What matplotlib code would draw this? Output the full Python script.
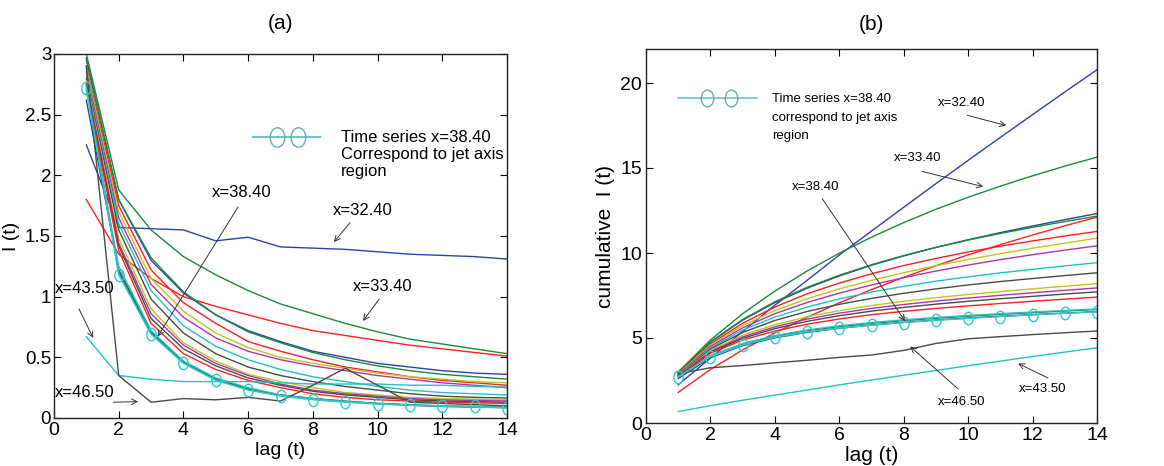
import numpy as np
import matplotlib
matplotlib.use("Agg")
import matplotlib.pyplot as plt
from matplotlib.lines import Line2D
from matplotlib.markers import MarkerStyle
from matplotlib.transforms import Affine2D
from matplotlib.ticker import FormatStrFormatter
from matplotlib.legend_handler import HandlerLine2DCompound

plt.rcParams['font.family'] = ['Liberation Sans', 'DejaVu Sans']

lag = [1, 2, 3, 4, 5, 6, 7, 8, 9, 10, 11, 12, 13, 14]

# I(t) series (panel a); panel b shows their cumulative sums
I_x3240 = [2.25, 1.57, 1.56, 1.55, 1.46, 1.49, 1.41, 1.40, 1.39, 1.37, 1.35, 1.34, 1.33, 1.31]
I_x3340 = [3.00, 1.88, 1.55, 1.33, 1.18, 1.05, 0.94, 0.86, 0.78, 0.71, 0.65, 0.61, 0.57, 0.53]
I_red1 = [1.80, 1.35, 1.15, 1.00, 0.92, 0.85, 0.78, 0.72, 0.68, 0.64, 0.60, 0.57, 0.54, 0.51]
I_blue2 = [2.95, 1.80, 1.30, 1.03, 0.85, 0.72, 0.63, 0.55, 0.50, 0.45, 0.42, 0.39, 0.37, 0.36]
I_green2 = [2.97, 1.80, 1.32, 1.04, 0.85, 0.71, 0.62, 0.54, 0.48, 0.43, 0.39, 0.36, 0.34, 0.32]
I_red2 = [2.90, 1.75, 1.22, 0.95, 0.78, 0.63, 0.55, 0.48, 0.42, 0.38, 0.34, 0.31, 0.29, 0.27]
I_yellow1 = [2.88, 1.70, 1.15, 0.88, 0.70, 0.58, 0.50, 0.45, 0.41, 0.37, 0.34, 0.32, 0.30, 0.29]
I_magenta1 = [2.85, 1.65, 1.10, 0.83, 0.66, 0.55, 0.48, 0.43, 0.39, 0.35, 0.32, 0.29, 0.27, 0.25]
I_cyan1 = [2.82, 1.60, 1.05, 0.76, 0.59, 0.48, 0.40, 0.34, 0.30, 0.26, 0.23, 0.21, 0.20, 0.19]
I_gray1 = [2.80, 1.55, 0.98, 0.70, 0.53, 0.42, 0.35, 0.30, 0.26, 0.23, 0.20, 0.18, 0.17, 0.165]
I_yellow2 = [2.78, 1.48, 0.90, 0.62, 0.47, 0.36, 0.30, 0.25, 0.21, 0.19, 0.17, 0.16, 0.155, 0.15]
I_magenta2 = [2.76, 1.44, 0.86, 0.60, 0.45, 0.35, 0.28, 0.23, 0.20, 0.18, 0.16, 0.15, 0.145, 0.14]
I_gray2 = [2.74, 1.42, 0.82, 0.57, 0.43, 0.33, 0.27, 0.22, 0.19, 0.17, 0.15, 0.14, 0.135, 0.13]
I_red3 = [2.72, 1.38, 0.78, 0.53, 0.40, 0.31, 0.25, 0.20, 0.17, 0.15, 0.14, 0.13, 0.125, 0.12]
I_blue3 = [2.62, 1.22, 0.71, 0.46, 0.32, 0.24, 0.19, 0.16, 0.135, 0.12, 0.105, 0.095, 0.09, 0.085]
I_green3 = [2.75, 1.20, 0.70, 0.46, 0.32, 0.24, 0.19, 0.16, 0.14, 0.12, 0.11, 0.10, 0.095, 0.09]
I_cyan2 = [2.70, 1.25, 0.72, 0.47, 0.33, 0.25, 0.19, 0.16, 0.135, 0.12, 0.105, 0.10, 0.09, 0.085]
I_x4350 = [0.67, 0.35, 0.32, 0.30, 0.30, 0.30, 0.29, 0.28, 0.28, 0.28, 0.27, 0.27, 0.26, 0.255]
I_x4650 = [2.90, 0.35, 0.13, 0.16, 0.15, 0.17, 0.14, 0.27, 0.41, 0.27, 0.13, 0.12, 0.11, 0.10]
I_x3840 = [2.72, 1.18, 0.69, 0.45, 0.31, 0.23, 0.18, 0.15, 0.13, 0.115, 0.105, 0.10, 0.095, 0.085]

legend_a = ['Time series x=38.40', 'Correspond to jet axis', 'region']
legend_b = ['Time series x=38.40', 'correspond to jet axis', 'region']

C_BLUE = '#2d42a8'
C_GREEN = '#1c8a3a'
C_RED = '#ff2020'
C_CYAN = '#22c2c2'
C_MAG = '#b035b0'
C_YEL = '#c2c224'
C_GRAY = '#4a4a4a'
C_CIRC = '#33c6cc'

series = [
    (I_x3240, C_BLUE), (I_x3340, C_GREEN), (I_red1, C_RED),
    (I_blue2, C_BLUE), (I_green2, C_GREEN), (I_red2, C_RED),
    (I_yellow1, C_YEL), (I_magenta1, C_MAG), (I_cyan1, C_CYAN),
    (I_gray1, C_GRAY), (I_yellow2, C_YEL), (I_magenta2, C_MAG),
    (I_gray2, C_GRAY), (I_red3, C_RED), (I_blue3, C_BLUE),
    (I_green3, C_GREEN), (I_cyan2, C_CYAN), (I_x4350, C_CYAN),
    (I_x4650, C_GRAY),
]


class HandlerInner(HandlerLine2DCompound):
    def get_xdata(self, legend, xdescent, ydescent, width, height, fontsize):
        xdata = np.array([-xdescent, -xdescent + width])
        xm = -xdescent + width * np.array([0.36, 0.67])
        return xdata, xm


W, H = 1164, 466
fig = plt.figure(figsize=(W / 100, H / 100), dpi=100)
axA = fig.add_axes([54 / W, 1 - 418 / H, (507 - 54) / W, (418 - 54) / H])
axB = fig.add_axes([646 / W, 1 - 423 / H, (1097 - 646) / W, (423 - 49) / H])

ell = MarkerStyle('o', transform=Affine2D().scale(0.75, 1.0))


def style_axes(ax, fs):
    ax.tick_params(direction='in', top=True, right=True, length=5, width=0.8,
                   labelsize=fs, pad=3)
    for sp in ax.spines.values():
        sp.set_linewidth(1.0)
        sp.set_color('#222222')


# ---- panel (a)
for vals, col in series:
    axA.plot(lag, vals, color=col, lw=1.0)
axA.plot(lag, I_x3840, color=C_CIRC, lw=1.0, marker=ell, ms=9, mfc='none',
         mec=C_CIRC, mew=1.0)
axA.set_xlim(0, 14)
axA.set_ylim(0, 3)
axA.set_xticks(range(0, 15, 2))
axA.set_yticks([0, 0.5, 1, 1.5, 2, 2.5, 3])
axA.yaxis.set_major_formatter(FormatStrFormatter('%g'))
style_axes(axA, 14)
axA.tick_params(axis='y', labelsize=13.5, pad=2)
axA.set_xlabel('lag (t)', fontsize=14, labelpad=2)
axA.set_ylabel('I (t)', fontsize=14)
axA.yaxis.set_label_coords(-0.074, 0.5)
axA.set_title('(a)', fontsize=15, pad=18)

hA = Line2D([], [], color='#6cc4cc', lw=1.5, marker=ell, ms=14, mfc='none',
            mec='#70a8b0', mew=1.0)
blank = Line2D([], [], color='none')
axA.legend([hA, blank, blank], legend_a,
           handler_map={hA: HandlerInner()}, numpoints=2,
           loc='upper left', bbox_to_anchor=(0.439, 0.79), frameon=False,
           handlelength=4.0, handletextpad=1.3, fontsize=12, labelspacing=0.1,
           borderpad=0, borderaxespad=0)

aprops = dict(arrowstyle='->', color='#333333', lw=0.7, shrinkA=0, shrinkB=0,
              mutation_scale=10)
fa = 12
axA.annotate('', xy=(3.2, 0.67), xytext=(5.69, 1.74), arrowprops=aprops)
axA.text(5.8, 1.86, 'x=38.40', fontsize=fa, ha='center', va='center')
axA.annotate('', xy=(8.65, 1.45), xytext=(9.15, 1.61), arrowprops=aprops)
axA.text(9.55, 1.71, 'x=32.40', fontsize=fa, ha='center', va='center')
axA.annotate('', xy=(9.55, 0.80), xytext=(10.05, 0.98), arrowprops=aprops)
axA.text(10.17, 1.08, 'x=33.40', fontsize=fa, ha='center', va='center')
axA.annotate('', xy=(1.21, 0.66), xytext=(0.77, 0.90), arrowprops=aprops)
axA.text(0.02, 1.07, 'x=43.50', fontsize=fa, ha='left', va='center')
axA.annotate('', xy=(2.6, 0.135), xytext=(1.83, 0.13), arrowprops=aprops)
axA.text(0.02, 0.21, 'x=46.50', fontsize=fa, ha='left', va='center')

# ---- panel (b)
for vals, col in series:
    axB.plot(lag, np.cumsum(vals), color=col, lw=1.0)
axB.plot(lag, np.cumsum(I_x3840), color=C_CIRC, lw=1.0, marker=ell, ms=9,
         mfc='none', mec=C_CIRC, mew=1.0)
axB.set_xlim(0, 14)
axB.set_ylim(0, 22)
axB.set_xticks(range(0, 15, 2))
axB.set_yticks([0, 5, 10, 15, 20])
style_axes(axB, 14)
axB.set_xlabel('lag (t)', fontsize=15, labelpad=1)
axB.set_ylabel('cumulative  I (t)', fontsize=15)
axB.yaxis.set_label_coords(-0.068, 0.5)
axB.set_title('(b)', fontsize=15, pad=14)

hB = Line2D([], [], color='#6cc4cc', lw=1.2, marker=ell, ms=12, mfc='none',
            mec='#70a8b0', mew=1.0)
axB.legend([hB, blank, blank], legend_b,
           handler_map={hB: HandlerInner()}, numpoints=2,
           loc='upper left', bbox_to_anchor=(0.071, 0.882), frameon=False,
           handlelength=6.0, handletextpad=1.15, fontsize=9.5, labelspacing=0.45,
           borderpad=0, borderaxespad=0)

fb = 9.5
axB.annotate('', xy=(11.18, 17.5), xytext=(9.97, 18.1), arrowprops=aprops)
axB.text(9.81, 18.8, 'x=32.40', fontsize=fb, ha='center', va='center')
axB.annotate('', xy=(10.47, 13.9), xytext=(8.57, 14.8), arrowprops=aprops)
axB.text(8.42, 15.6, 'x=33.40', fontsize=fb, ha='center', va='center')
axB.annotate('', xy=(8.04, 6.0), xytext=(5.47, 13.2), arrowprops=aprops)
axB.text(5.25, 13.9, 'x=38.40', fontsize=fb, ha='center', va='center')
axB.annotate('', xy=(8.2, 4.5), xytext=(9.69, 2.0), arrowprops=aprops)
axB.text(9.81, 1.24, 'x=46.50', fontsize=fb, ha='center', va='center')
axB.annotate('', xy=(11.55, 3.5), xytext=(12.48, 2.65), arrowprops=aprops)
axB.text(12.3, 2.0, 'x=43.50', fontsize=fb, ha='center', va='center')

fig.savefig('out.png', dpi=100)
